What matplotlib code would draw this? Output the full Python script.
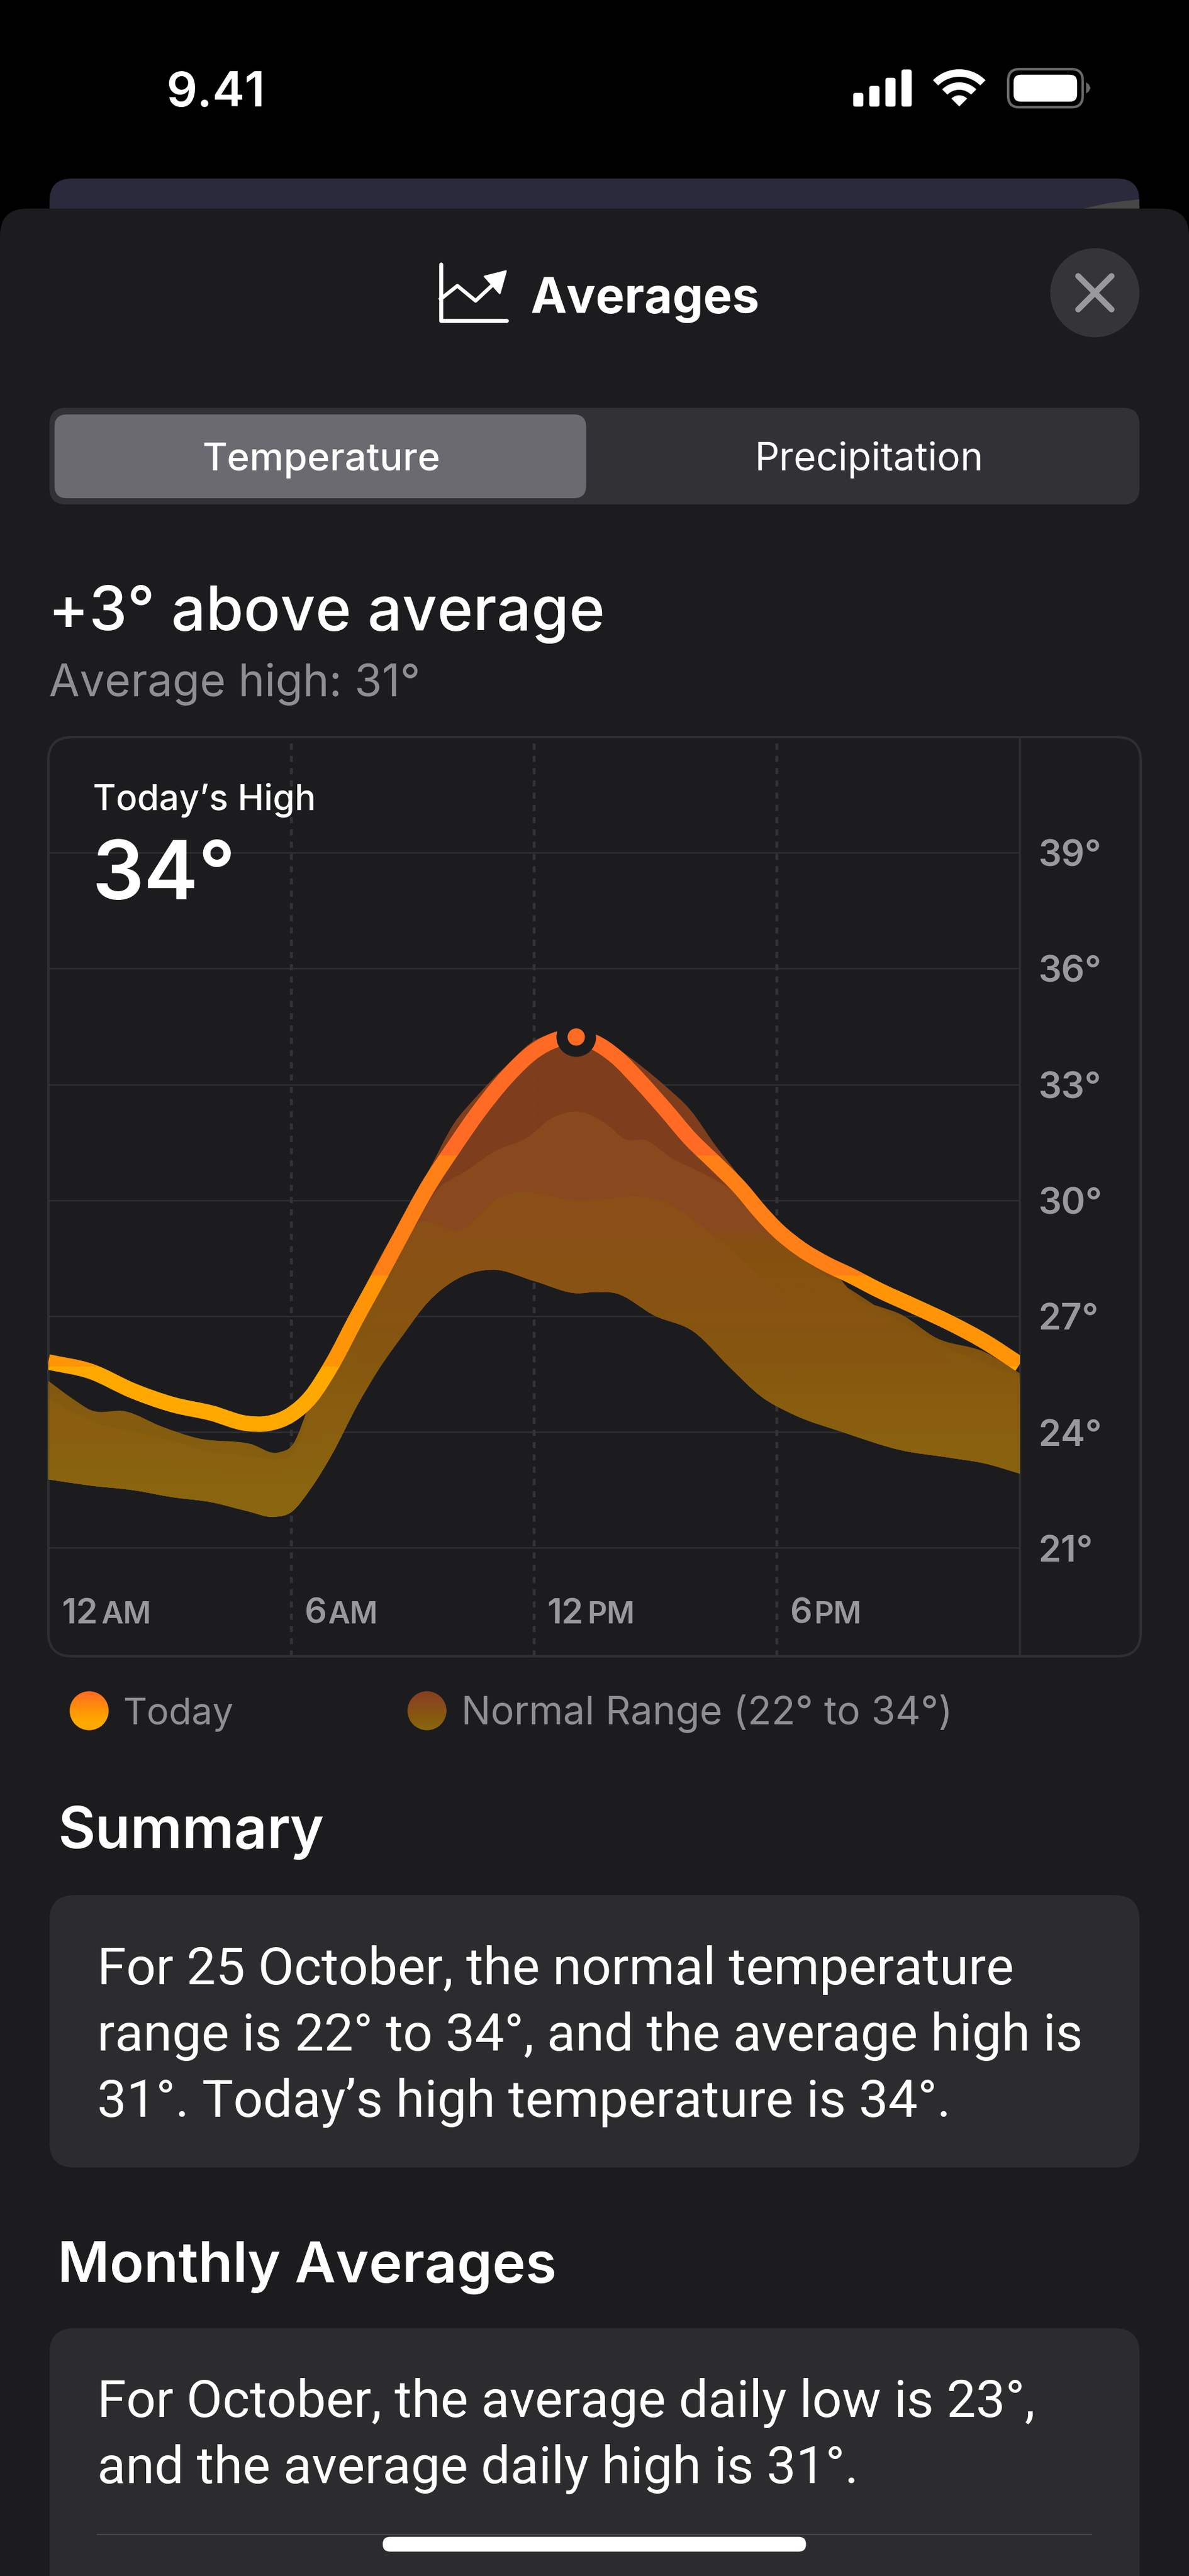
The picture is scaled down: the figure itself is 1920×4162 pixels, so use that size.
import numpy as np
import matplotlib
matplotlib.use("Agg")
import matplotlib.pyplot as plt
from matplotlib.colors import LinearSegmentedColormap
from matplotlib.path import Path
from matplotlib.patches import Circle, FancyBboxPatch, PathPatch, Polygon, Rectangle, Wedge

W, H = 1920, 4162
PX = 0.72  # points per pixel at dpi 100

# today's temperature
TODAY_H = [0, 1.04, 2.1, 3.06, 4.02, 4.91, 5.43, 6, 6.49, 7.01, 7.63, 8.15, 8.77, 9.38, 10, 10.61,
           11.32, 12.02, 13.03, 13.49, 14.02, 14.63, 15.25, 15.86, 16.48, 17.09, 17.62, 18, 18.59,
           19.2, 19.82, 20.52, 21.4, 22.28, 23.15, 24]
TODAY_T = [25.82, 25.58, 25.07, 24.72, 24.5, 24.23, 24.23, 24.46, 24.92, 25.76, 26.99, 27.98, 29.2,
           30.36, 31.35, 32.27, 33.19, 33.88, 34.23, 34.1, 33.73, 33.08, 32.35, 31.6, 30.97, 30.33,
           29.67, 29.25, 28.75, 28.37, 28.06, 27.68, 27.26, 26.83, 26.34, 25.76]
PEAK_H, PEAK_T = 13.03, 34.25

# normal range, outer edges
HIGH_H = [0, 0.6, 1.04, 1.92, 2.8, 3.68, 4.99, 5.69, 6.05, 6.49, 7.01, 7.63, 8.15, 8.77, 9.38, 10,
          10.61, 11.32, 12.02, 13.03, 13.49, 14.02, 14.63, 15.25, 15.86, 16.48, 17.09, 17.62, 18,
          18.59, 19.2, 19.54, 19.99, 20.52, 21.05, 21.93, 23.15, 24]
HIGH_T = [25.33, 24.87, 24.58, 24.54, 24.15, 23.85, 23.7, 23.48, 23.7, 24.84, 26.07, 27.37, 28.44,
          29.59, 30.74, 31.96, 32.73, 33.5, 34.15, 34.3, 34.26, 33.96, 33.5, 32.96, 32.35, 31.43,
          30.6, 29.75, 29.36, 28.9, 28.3, 28.0, 27.45, 27.26, 27.06, 26.45, 26.07, 25.53]
LOW_H = [0, 1.04, 2.1, 3.06, 4.02, 4.91, 5.57, 6, 6.49, 7.01, 7.63, 8.15, 8.77, 9.38, 10, 10.97,
         12.02, 13.07, 13.49, 14.02, 14.98, 15.95, 16.83, 17.62, 18.41, 19.64, 21.05, 22.28, 23.15, 24]
LOW_T = [22.78, 22.62, 22.5, 22.32, 22.19, 21.96, 21.81, 21.93, 22.55, 23.43, 24.69, 25.61, 26.53,
         27.37, 27.91, 28.21, 27.91, 27.6, 27.63, 27.6, 27.02, 26.6, 25.69, 24.92, 24.46, 24.0,
         23.54, 23.34, 23.19, 22.93]

# inner bands of the normal range
MID_H = [0, 1.04, 2.1, 3, 4, 5, 5.7, 6, 6.5, 7, 7.6, 8.15, 8.9, 9.55, 10.33, 11.03, 11.89, 12.36,
         13.1, 13.84, 14.22, 14.77, 15.4, 16.18, 16.96, 17.35, 18.14, 18.92, 19.5, 21, 22, 24]
MID_T = [24.9, 24.3, 24.0, 23.8, 23.5, 23.4, 23.3, 23.4, 24.6, 25.8, 27, 27.8, 29, 30.2, 30.77,
         31.27, 31.67, 32.08, 32.3, 31.94, 31.6, 31.56, 31.1, 30.7, 30.2, 29.8, 29, 28.24, 27.9,
         26.9, 26.3, 25.45]
CORE_H = [0.03, 1.76, 2.78, 4.05, 4.82, 5.84, 6.46, 7, 7.6, 8.2, 8.92, 10.25, 11.03, 13.1, 15.4,
          16.18, 16.96, 17.98, 20.2, 21.05, 22, 23, 24]
CORE_T = [23.58, 23.47, 23.31, 22.99, 22.89, 22.99, 23.31, 24.4, 25.8, 27.2, 29.14, 29.27, 30.0,
          30.0, 29.88, 29.3, 28.66, 27.6, 27.1, 26.7, 26.0, 25.5, 25.3]

TEMP_TICKS = [21, 24, 27, 30, 33, 36, 39]
HOUR_TICKS = [0, 6, 12, 18]
HOUR_NUMS = ["12", "6", "12", "6"]
HOUR_SUFFIX = ["AM", "AM", "PM", "PM"]

LINE_STEPS = [(18, 25.7, "#ffa800"), (25.7, 28.05, "#ff9506"), (28.05, 31.16, "#ff8016"), (31.16, 42, "#ff6b24")]
OUTER_STOPS = [(21, "#8c680f"), (24.5, "#8a5f0f"), (26, "#87580f"), (28.8, "#86510f"), (29.2, "#84411f"), (36, "#84401f")]
MID_STOPS = [(21, "#8c680f"), (24.5, "#8a5f0f"), (26, "#87580f"), (28.8, "#86510f"), (29.2, "#8a4a1d"), (36, "#8b481e")]
CORE_STOPS = [(21, "#8c6a0f"), (24, "#8a610f"), (26, "#875610"), (28, "#8a5215"), (30, "#8c5018"), (36, "#8c5018")]

BG = "#1c1c1e"
GRID = "#2e2f31"
GREY = "#98989d"
SOFT = "#8e8e93"

plt.rcParams["font.family"] = ["Inter", "DejaVu Sans"]

fig = plt.figure(figsize=(W / 100, H / 100), dpi=100, facecolor="black")
ui = fig.add_axes([0, 0, 1, 1])
ui.axis("off")


def box(x0, y0, x1, y1, r, color, **kw):
    ui.add_patch(FancyBboxPatch((x0 + r, y0 + r), x1 - x0 - 2 * r, y1 - y0 - 2 * r,
                                boxstyle=f"round,pad={r},rounding_size={r}",
                                facecolor=color, edgecolor=kw.pop("edge", "none"),
                                linewidth=kw.pop("lw", 0), **kw))


def label(x, y, s, px, color="white", weight="regular", ha="left", family=None):
    ui.text(x, y, s, fontsize=px * PX, color=color, fontweight=weight, ha=ha, va="baseline",
            family=family or ["Inter", "DejaVu Sans"])


def smooth_verts(xs, ys):
    # cubic pieces through the read values
    xs, ys = np.asarray(xs, float), np.asarray(ys, float)
    m = np.gradient(ys, xs)
    verts = []
    for i in range(len(xs) - 1):
        d = (xs[i + 1] - xs[i]) / 3
        verts += [(xs[i] + d, ys[i] + m[i] * d), (xs[i + 1] - d, ys[i + 1] - m[i + 1] * d), (xs[i + 1], ys[i + 1])]
    return verts


def curve_path(xs, ys):
    verts = [(xs[0], ys[0])] + smooth_verts(xs, ys)
    return Path(verts, [Path.MOVETO] + [Path.CURVE4] * (len(verts) - 1))


def band_path(top_h, top_t):
    top = smooth_verts(top_h, top_t)
    low = smooth_verts(LOW_H[::-1], LOW_T[::-1])
    verts = [(top_h[0], top_t[0])] + top + [(LOW_H[-1], LOW_T[-1])] + low + [(top_h[0], top_t[0])]
    codes = [Path.MOVETO] + [Path.CURVE4] * len(top) + [Path.LINETO] + [Path.CURVE4] * len(low) + [Path.CLOSEPOLY]
    return Path(verts, codes)


# status bar and the sheet behind
label(348.5, 172, "9.41", 78, weight="semibold", ha="center")
for x0, top in zip([1377.7, 1403.7, 1429.7, 1455.7], [150, 138.7, 125.7, 112.3]):
    box(x0, top, x0 + 16.5, 172.3, 4, "white")
for r0, r1 in [(0, 18), (27, 39), (48, 60)]:
    ui.add_patch(Wedge((1549, 172), r1, 225, 315, width=r1 - r0, facecolor="white", edgecolor="none"))
box(1628, 111.7, 1748.3, 173.3, 18, "black", edge="#6a6a6c", lw=4 * PX)
box(1636.7, 120.7, 1739.3, 164.3, 12, "white")
ui.add_patch(Polygon([(1754, 133), (1758, 136), (1761, 142), (1758, 148), (1754, 151)], facecolor="#6a6a6c"))
box(80, 288.5, 1840, 420, 36, "#2a2a3c")
ui.add_patch(Polygon([(1750, 337), (1790, 328), (1840, 322), (1840, 337)], facecolor="#474747"))
box(0, 337, 1920, 4300, 44, BG)

# header
ui.plot([711.8, 711.8, 817.8], [426.7, 518.3, 518.3], color="white", lw=6.5 * PX, solid_capstyle="round", solid_joinstyle="round")
ui.plot([711.8, 738.6, 768, 798], [483, 461.7, 486, 458], color="white", lw=6 * PX, solid_joinstyle="round")
ui.add_patch(Polygon([(817, 438), (782.6, 446.7), (807, 474)], facecolor="white", edgecolor="white", lw=2, joinstyle="round"))
label(856, 505, "Averages", 78.5, weight="bold")
ui.add_patch(Circle((1768, 473), 72, facecolor="#353538", edgecolor="none"))
ui.plot([1741, 1795], [446, 500], color=GREY, lw=9.5 * PX, solid_capstyle="round")
ui.plot([1741, 1795], [500, 446], color=GREY, lw=9.5 * PX, solid_capstyle="round")

# segmented control
box(80, 659, 1840, 815, 26, "#323236")
box(88, 669.6, 946.5, 805, 20, "#6a6a70")
label(518.5, 760, "Temperature", 62, weight="medium", ha="center")
label(1403, 760, "Precipitation", 62.5, ha="center")

label(78, 1018, "+3° above average", 98.5, weight="medium")
label(79, 1125, "Average high: 31°", 72, color=SOFT)

# chart card
box(78, 1191, 1842, 2676, 38, "none", edge=GRID, lw=4 * PX)

# legend
for cx, colors in [(144, ["#ffa800", "#ffa800", "#ff9506", "#ff8016", "#ff6b24"]),
                   (689.5, ["#8c680f", "#87580f", "#8a4a1d", "#84401f"])]:
    cmap = LinearSegmentedColormap.from_list("dot", colors)
    im = ui.imshow(np.linspace(0, 1, 64)[:, None], extent=(cx - 32, cx + 32, 2796, 2732), origin="lower",
                   cmap=cmap, aspect="auto", interpolation="nearest", zorder=3)
    im.set_clip_path(Circle((cx, 2764), 31.5, transform=ui.transData))
label(198, 2785.7, "Today", 60, color=SOFT)
label(745, 2785.7, "Normal Range (22° to 34°)", 63, color=SOFT)

# summary blocks
BODY = ["Roboto", "DejaVu Sans"]
label(93, 2985.7, "Summary", 93, weight="semibold")
box(80, 3062, 1840, 3502, 40, "#2c2c2e")
label(157, 3206, "For 25 October, the normal temperature", 84.4, family=BODY)
label(157, 3313, "range is 22° to 34°, and the average high is", 84.4, family=BODY)
label(157, 3419.6, "31°. Today’s high temperature is 34°.", 84.4, family=BODY)
label(93, 3687, "Monthly Averages", 91, weight="semibold")
box(80, 3761.5, 1840, 4300, 40, "#2c2c2e")
label(157, 3905, "For October, the average daily low is 23°,", 84.4, family=BODY)
label(157, 4012.5, "and the average daily high is 31°.", 84.4, family=BODY)
ui.plot([157, 1763], [4095, 4095], color="#48484a", lw=2 * PX)
box(618, 4098.7, 1301.6, 4122.6, 12, "white", zorder=5)

ui.set_xlim(0, W)
ui.set_ylim(H, 0)

# the chart itself
ax = fig.add_axes([78 / W, 1 - 2676 / H, (1646.6 - 78) / W, (2676 - 1191) / H])
ax.patch.set_visible(False)
for s in ax.spines.values():
    s.set_visible(False)

for t in TEMP_TICKS:
    ax.axhline(t, color=GRID, lw=2.5 * PX, zorder=1)
for h in HOUR_TICKS[1:]:
    ax.axvline(h, color="#333437", lw=4.5 * PX, ls=(0, (2.2, 2.2)), zorder=1)
ax.axvline(24, color=GRID, lw=3.5 * PX, zorder=1, clip_on=False)


def band(top_h, top_t, stops, z):
    lo, hi = stops[0][0], stops[-1][0]
    cmap = LinearSegmentedColormap.from_list("band", [((v - lo) / (hi - lo), c) for v, c in stops], N=512)
    im = ax.imshow(np.linspace(0, 1, 512)[:, None], extent=(0, 24, lo, hi), origin="lower", cmap=cmap,
                   aspect="auto", interpolation="bilinear", alpha=0.95, zorder=z)
    im.set_clip_path(band_path(top_h, top_t), ax.transData)


band(HIGH_H, HIGH_T, OUTER_STOPS, 2)
band(MID_H, MID_T, MID_STOPS, 3)
band(CORE_H, CORE_T, CORE_STOPS, 4)

today_path = curve_path(TODAY_H, TODAY_T)
for lo, hi, color in LINE_STEPS:
    stroke = PathPatch(today_path, facecolor="none", edgecolor=color, lw=25 * PX, capstyle="butt", joinstyle="round", zorder=5)
    ax.add_patch(stroke)
    stroke.set_clip_path(Rectangle((0, lo), 24, hi - lo, transform=ax.transData))

ax.scatter([PEAK_H], [PEAK_T], s=(64 * PX) ** 2, color=BG, linewidths=0, zorder=6)
ax.scatter([PEAK_H], [PEAK_T], s=(28 * PX) ** 2, color="#ff6b24", linewidths=0, zorder=7)

ax.set_xlim(0, 24)
ax.set_ylim(18.2, 42.0)
ax.set_xticks([])
ax.yaxis.tick_right()
ax.set_yticks(TEMP_TICKS, [f"{t}°" for t in TEMP_TICKS])
ax.tick_params(axis="y", length=0, pad=30 * PX, labelsize=59 * PX, labelcolor=GREY)
for lab in ax.get_yticklabels():
    lab.set_fontweight("semibold")

for h, num, suf in zip(HOUR_TICKS, HOUR_NUMS, HOUR_SUFFIX):
    ax.annotate(num, (h, 19.05), xytext=(21 * PX, 0), textcoords="offset points", fontsize=56 * PX,
                color=GREY, fontweight="semibold", ha="left", va="baseline")
    gap = 86 if len(num) == 2 else 60
    ax.annotate(suf, (h, 19.05), xytext=(gap * PX, 0), textcoords="offset points", fontsize=49 * PX,
                color=GREY, fontweight="semibold", ha="left", va="baseline")

ax.annotate("Today’s High", (0, 42.0), xytext=(72 * PX, -118 * PX), textcoords="offset points", fontsize=57 * PX,
            color="white", fontweight="medium", va="baseline")
ax.annotate("34°", (0, 42.0), xytext=(71 * PX, -262 * PX), textcoords="offset points", fontsize=132 * PX,
            color="white", fontweight="semibold", va="baseline")

fig.savefig("out.png", dpi=100, facecolor="black")
